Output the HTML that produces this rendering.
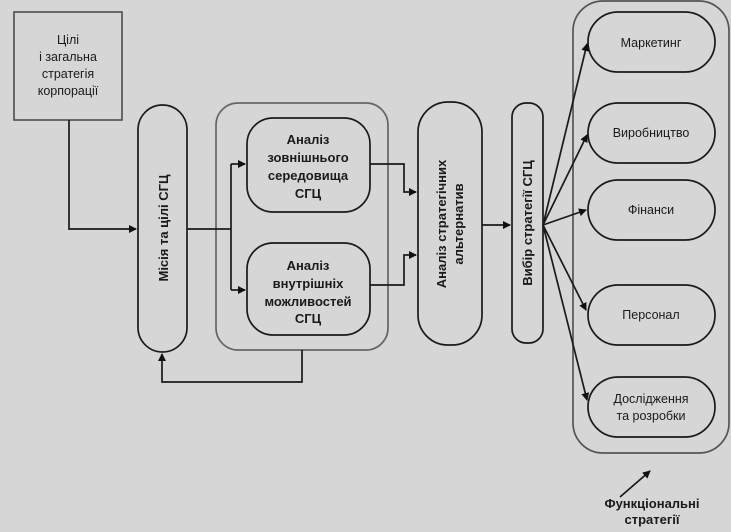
<!DOCTYPE html>
<html><head><meta charset="utf-8"><style>
body{margin:0;background:#d6d6d6;}
svg{display:block;font-family:"Liberation Sans",Arial,sans-serif;}
</style></head><body>
<svg width="731" height="532" viewBox="0 0 731 532" xmlns="http://www.w3.org/2000/svg">
<defs><marker id="a" markerWidth="8" markerHeight="8" refX="7" refY="4" orient="auto" markerUnits="userSpaceOnUse"><path d="M0,0 L8,4 L0,8 z" fill="#111"/></marker></defs>
<rect width="731" height="532" fill="#d6d6d6"/>
<g fill="none" stroke="#1a1a1a" stroke-width="1.7">
<rect x="14" y="12" width="108" height="108" stroke="#555"/>
<rect x="216" y="103" width="172" height="247" rx="22" stroke="#666"/>
<rect x="573" y="1" width="156" height="452" rx="30" stroke="#555"/>
<rect x="138" y="105" width="49" height="247" rx="24.5" fill="#d6d6d6"/>
<rect x="247" y="118" width="123" height="94" rx="26" fill="#d6d6d6"/>
<rect x="247" y="243" width="123" height="92" rx="26" fill="#d6d6d6"/>
<rect x="418" y="102" width="64" height="243" rx="30" fill="#d6d6d6"/>
<rect x="512" y="103" width="31" height="240" rx="14"/>
<rect x="588" y="12" width="127" height="60" rx="30"/>
<rect x="588" y="103" width="127" height="60" rx="30"/>
<rect x="588" y="180" width="127" height="60" rx="30"/>
<rect x="588" y="285" width="127" height="60" rx="30"/>
<rect x="588" y="377" width="127" height="60" rx="30"/>
<polyline points="69,120 69,229 136,229" marker-end="url(#a)"/>
<polyline points="187,229 231,229"/>
<polyline points="231,164 231,290"/>
<line x1="231" y1="164" x2="245" y2="164" marker-end="url(#a)"/>
<line x1="231" y1="290" x2="245" y2="290" marker-end="url(#a)"/>
<polyline points="302,350 302,382 162,382 162,354" marker-end="url(#a)"/>
<polyline points="370,164 404,164 404,192 416,192" marker-end="url(#a)"/>
<polyline points="370,285 404,285 404,255 416,255" marker-end="url(#a)"/>
<line x1="482" y1="225" x2="510" y2="225" marker-end="url(#a)"/>
<line x1="543" y1="225" x2="587" y2="44" marker-end="url(#a)"/>
<line x1="543" y1="225" x2="587" y2="135" marker-end="url(#a)"/>
<line x1="543" y1="225" x2="586" y2="210" marker-end="url(#a)"/>
<line x1="543" y1="225" x2="586" y2="310" marker-end="url(#a)"/>
<line x1="543" y1="225" x2="587" y2="400" marker-end="url(#a)"/>
<line x1="620" y1="497" x2="650" y2="471" marker-end="url(#a)"/>
</g>
<g fill="#1a1a1a" font-size="12.5" text-anchor="middle">
<text x="68" y="44">Цілі</text>
<text x="68" y="61">і загальна</text>
<text x="68" y="78">стратегія</text>
<text x="68" y="95">корпорації</text>
<g font-weight="bold" font-size="13">
<text x="308" y="144">Аналіз</text>
<text x="308" y="162">зовнішнього</text>
<text x="308" y="180">середовища</text>
<text x="308" y="198">СГЦ</text>
<text x="308" y="270">Аналіз</text>
<text x="308" y="288">внутрішніх</text>
<text x="308" y="306">можливостей</text>
<text x="308" y="323">СГЦ</text>
<text transform="translate(168,228) rotate(-90)">Місія та цілі СГЦ</text>
<text transform="translate(446,224) rotate(-90)">Аналіз стратегічних</text>
<text transform="translate(463,224) rotate(-90)">альтернатив</text>
<text transform="translate(532,223) rotate(-90)">Вибір стратегії СГЦ</text>
<text x="652" y="508">Функціональні</text>
<text x="652" y="524">стратегії</text>
</g>
<text x="651" y="47">Маркетинг</text>
<text x="651" y="137">Виробництво</text>
<text x="651" y="214">Фінанси</text>
<text x="651" y="319">Персонал</text>
<text x="651" y="403">Дослідження</text>
<text x="651" y="420">та розробки</text>
</g>
</svg>
</body></html>
